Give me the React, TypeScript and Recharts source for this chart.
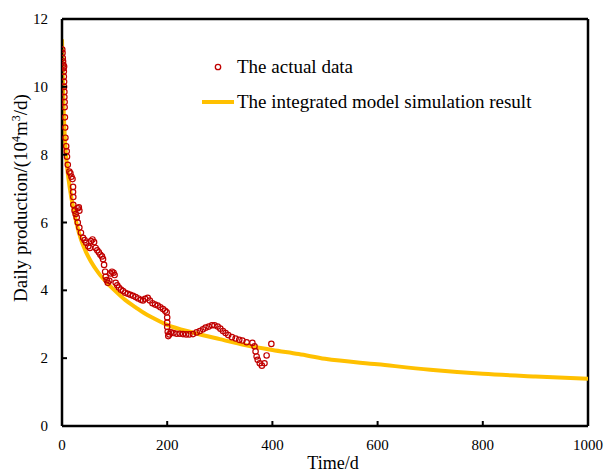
import {
  ComposedChart,
  Legend,
  Line,
  ReferenceLine,
  Scatter,
  XAxis,
  YAxis,
} from "recharts"

// measured daily production (10^4 m3/d) vs time (d)
const actualDays = [
  0.5, 1, 1.5, 2, 2.5, 3, 3.5, 4, 3.5, 4, 4, 4.5, 4.5, 5, 5, 5.5, 6, 6.5, 8, 9,
  9.5, 11, 14, 16, 18, 20, 21, 21, 21.5, 21.5, 24, 26, 28, 30, 32, 33, 30, 33,
  36, 40, 43, 46, 50, 53, 55, 58, 61, 64, 67, 70, 73, 76, 78, 80, 82, 83, 85,
  87, 90, 92, 95, 98, 100, 102, 105, 108, 112, 116, 120, 125, 130, 135, 140,
  145, 150, 154, 158, 163, 167, 172, 177, 182, 187, 192, 196, 199, 200, 200,
  200, 201, 202, 204, 207, 212, 218, 224, 230, 236, 242, 249, 256, 262, 268,
  273, 279, 285, 290, 296, 301, 306, 311, 316, 323, 330, 337, 343, 351, 362,
  366, 368, 370, 372, 376, 380, 385, 389, 398,
]
const actualRate = [
  11.1, 11.0, 10.85, 10.75, 10.65, 10.55, 10.45, 10.6, 10.3, 10.15, 10.0, 9.85,
  9.7, 9.55, 9.4, 9.1, 8.8, 8.5, 8.25, 8.1, 7.94, 7.7, 7.5, 7.45, 7.35, 7.28,
  7.05, 6.9, 6.75, 6.52, 6.35, 6.25, 6.15, 6.42, 6.45, 6.35, 6.0, 5.85, 5.7,
  5.55, 5.48, 5.4, 5.3, 5.25, 5.45, 5.5, 5.42, 5.25, 5.18, 5.12, 5.05, 5.0,
  4.92, 4.75, 4.55, 4.4, 4.3, 4.22, 4.28, 4.5, 4.55, 4.52, 4.45, 4.22, 4.15,
  4.08, 4.02, 3.98, 3.93, 3.9, 3.87, 3.84, 3.8, 3.76, 3.72, 3.7, 3.75, 3.78,
  3.7, 3.62, 3.58, 3.55, 3.5, 3.45, 3.4, 3.35, 3.2, 3.05, 2.92, 2.78, 2.65,
  2.7, 2.76, 2.74, 2.72, 2.72, 2.71, 2.7, 2.7, 2.71, 2.76, 2.8, 2.85, 2.9,
  2.93, 2.97, 2.97, 2.93, 2.87, 2.8, 2.74, 2.68, 2.62, 2.58, 2.54, 2.52, 2.47,
  2.45, 2.35, 2.2, 2.05, 1.95, 1.85, 1.78, 1.85, 2.08, 2.42,
]

// integrated model simulation curve
const modelDays = [
  0, 1, 2, 3, 5, 8, 11, 15, 21, 28, 36, 45, 55, 70, 87, 100, 120, 140, 156,
  175, 200, 250, 300, 350, 400, 450, 500, 600, 700, 800, 900, 1000,
]
const modelRate = [
  11.4, 10.6, 10.0, 9.4, 8.6, 7.9, 7.45, 7.0, 6.45, 5.95, 5.5, 5.15, 4.85, 4.5,
  4.2, 4.0, 3.72, 3.5, 3.33, 3.17, 2.98, 2.75, 2.56, 2.38, 2.24, 2.12, 1.98,
  1.82, 1.66, 1.54, 1.46, 1.39,
]

const xTicks = [0, 200, 400, 600, 800, 1000]
const yTicks = [0, 2, 4, 6, 8, 10, 12]

const actual = actualDays.map((t, i) => ({ t, v: actualRate[i] }))
const model = modelDays.map((t, i) => ({ t, v: modelRate[i] }))

const FONT = "Liberation Serif, Tinos, DejaVu Serif, serif"
const RED = "#C00000"
const GOLD = "#FFC000"
const TICK_GAP = 10

function XTick({ x, y, payload }: any) {
  const axisY = y - TICK_GAP
  return (
    <g>
      <line x1={x} x2={x} y1={axisY} y2={axisY - 5} stroke="#000" strokeWidth={2} />
      <text x={x} y={axisY + 24} textAnchor="middle" fontSize={15} style={{ fontFamily: FONT }} fill="#000">
        {payload.value}
      </text>
    </g>
  )
}

function YTick({ x, y, payload }: any) {
  const axisX = x + 14
  return (
    <g>
      {payload.value !== 0 && (
        <line x1={axisX} x2={axisX + 5} y1={y} y2={y} stroke="#000" strokeWidth={2} />
      )}
      <text x={x} y={y + 5} textAnchor="end" fontSize={15} style={{ fontFamily: FONT }} fill="#000">
        {payload.value}
      </text>
    </g>
  )
}

function YTitle() {
  return (
    <text
      transform="translate(27,198) rotate(-90)"
      textAnchor="middle"
      fontSize={19}
      style={{ fontFamily: FONT }}
      fill="#000"
    >
      Daily production/(10
      <tspan dy={-7} fontSize={12}>4</tspan>
      <tspan dy={7}>m</tspan>
      <tspan dy={-7} fontSize={12}>3</tspan>
      <tspan dy={7}>/d)</tspan>
    </text>
  )
}

function XTitle() {
  return (
    <text x={333} y={469} textAnchor="middle" fontSize={18} style={{ fontFamily: FONT }} fill="#000">
      Time/d
    </text>
  )
}

function LegendBox() {
  const row = { display: "flex", alignItems: "center", height: 24 }
  const txt = { fontFamily: FONT, fontSize: 19, color: "#000", whiteSpace: "nowrap" as const }
  return (
    <div>
      <div style={row}>
        <svg width={37} height={24}>
          <circle cx={18} cy={12} r={2.7} fill="none" stroke={RED} strokeWidth={1.3} />
        </svg>
        <span style={txt}>The actual data</span>
      </div>
      <div style={{ ...row, marginTop: 11 }}>
        <svg width={37} height={24}>
          <line x1={2} x2={34} y1={12} y2={12} stroke={GOLD} strokeWidth={4} />
        </svg>
        <span style={txt}>The integrated model simulation result</span>
      </div>
    </div>
  )
}

export default function App() {
  return (
    <div style={{ position: "absolute", left: 0, top: 0, width: 604, height: 473, background: "#fff", fontFamily: FONT }}>
      <ComposedChart
        width={604}
        height={473}
        margin={{ top: 19, right: 16, bottom: 17, left: 0 }}
      >
        <XAxis
          dataKey="t"
          type="number"
          domain={[0, 1000]}
          ticks={xTicks}
          allowDataOverflow
          height={30}
          tickSize={0}
          tickMargin={TICK_GAP}
          tickLine={false}
          tick={<XTick />}
          axisLine={{ stroke: "#000", strokeWidth: 2.5 }}
          label={{ content: <XTitle /> }}
        />
        <YAxis
          dataKey="v"
          type="number"
          domain={[0, 12]}
          ticks={yTicks}
          allowDataOverflow
          width={62}
          tickSize={0}
          tickMargin={14}
          tickLine={false}
          tick={<YTick />}
          axisLine={{ stroke: "#000", strokeWidth: 2.5 }}
          label={{ content: <YTitle /> }}
        />
        <ReferenceLine x={1000} stroke="#000" strokeWidth={2.5} />
        <ReferenceLine y={12} stroke="#000" strokeWidth={2.5} />
        <Line
          data={model}
          dataKey="v"
          type="monotone"
          stroke={GOLD}
          strokeWidth={4}
          dot={false}
          activeDot={false}
          isAnimationActive={false}
        />
        <Scatter
          data={actual}
          dataKey="v"
          isAnimationActive={false}
          shape={(p: any) => (
            <circle cx={p.cx} cy={p.cy} r={2.7} fill="none" stroke={RED} strokeWidth={1.2} />
          )}
        />
        <Legend
          layout="vertical"
          align="center"
          verticalAlign="middle"
          content={<LegendBox />}
          wrapperStyle={{ top: 55, left: 200, width: "auto" }}
        />
      </ComposedChart>
    </div>
  )
}
